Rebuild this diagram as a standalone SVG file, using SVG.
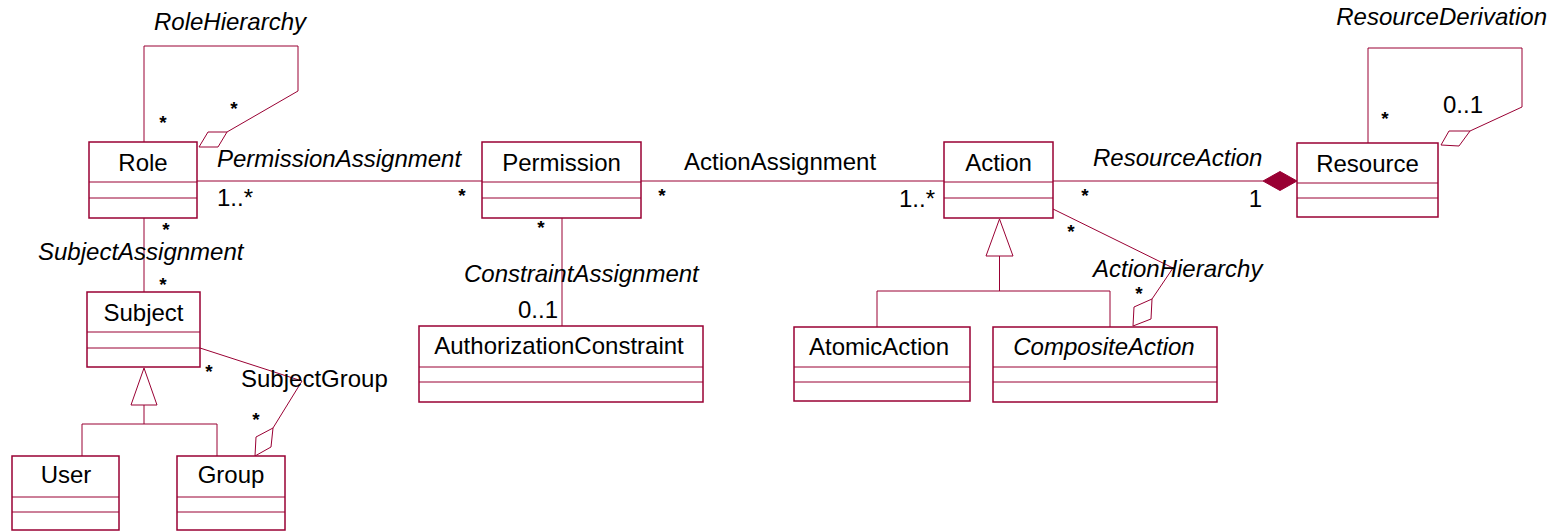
<svg xmlns="http://www.w3.org/2000/svg" width="1555" height="532" viewBox="0 0 1555 532">
<style>
  .box { fill: #ffffff; stroke: #990033; stroke-width: 1.5; }
  .div { stroke: #990033; stroke-width: 1; fill: none; }
  .ln { stroke: #990033; stroke-width: 1; fill: none; }
  .agg { fill: #ffffff; stroke: #990033; stroke-width: 1; }
  .comp { fill: #990033; stroke: #990033; stroke-width: 1; }
  .gen { fill: #ffffff; stroke: #990033; stroke-width: 1; }
  text { font-family: "Liberation Sans", Arial, sans-serif; font-size: 24px; fill: #000000; }
  .name { text-anchor: middle; }
  .it { font-style: italic; }
  .star { font-size: 19px; font-weight: bold; }
</style>
<rect width="1555" height="532" fill="#ffffff"/>

<g id="connectors">
  <!-- RoleHierarchy -->
  <polyline class="ln" points="144,142 144,46 298,46 298,91 227,132"/>
  <polygon class="agg" points="227,132 208,132 199,147 218,147"/>
  <!-- PermissionAssignment -->
  <line class="ln" x1="197" y1="181" x2="482" y2="181"/>
  <!-- ActionAssignment -->
  <line class="ln" x1="641" y1="181" x2="944" y2="181"/>
  <!-- ResourceAction -->
  <line class="ln" x1="1053" y1="181" x2="1263" y2="181"/>
  <polygon class="comp" points="1263,181 1280,171.5 1297,181 1280,190.5"/>
  <!-- ResourceDerivation -->
  <polyline class="ln" points="1368,143 1368,48 1522,48 1522,107 1470,131"/>
  <polygon class="agg" points="1470,131 1449,131 1441,145 1459,146"/>
  <!-- SubjectAssignment -->
  <line class="ln" x1="144" y1="218" x2="144" y2="292"/>
  <!-- ConstraintAssignment -->
  <line class="ln" x1="562" y1="218" x2="562" y2="326"/>
  <!-- Subject generalization -->
  <polygon class="gen" points="144,368 131,405 157,405"/>
  <polyline class="ln" points="144,405 144,424"/>
  <polyline class="ln" points="82,456 82,424 217,424 217,456"/>
  <!-- SubjectGroup -->
  <polyline class="ln" points="200,348 302,381 273,428"/>
  <polygon class="agg" points="273,428 271,447 255,456 256,437"/>
  <!-- Action generalization -->
  <polygon class="gen" points="999.5,219 986,256 1013,256"/>
  <polyline class="ln" points="999.5,256 999.5,291"/>
  <polyline class="ln" points="877,327 877,291 1110,291 1110,327"/>
  <!-- ActionHierarchy -->
  <polyline class="ln" points="1053,209 1173,268 1152,299"/>
  <polygon class="agg" points="1152,299 1151,319 1133,326 1134,307"/>
</g>

<g id="labels">
  <text class="it" x="230" y="30" text-anchor="middle">RoleHierarchy</text>
  <text class="star" x="163" y="129" text-anchor="middle">*</text>
  <text class="star" x="234" y="115" text-anchor="middle">*</text>
  <text class="it" x="217" y="167">PermissionAssignment</text>
  <text x="217" y="206">1..*</text>
  <text class="star" x="462" y="202" text-anchor="middle">*</text>
  <text x="684" y="170">ActionAssignment</text>
  <text class="star" x="662" y="202" text-anchor="middle">*</text>
  <text x="935" y="207" text-anchor="end">1..*</text>
  <text class="it" x="1093" y="166">ResourceAction</text>
  <text class="star" x="1085" y="202" text-anchor="middle">*</text>
  <text x="1262" y="207" text-anchor="end">1</text>
  <text class="it" x="1547" y="25" text-anchor="end">ResourceDerivation</text>
  <text class="star" x="1385" y="125" text-anchor="middle">*</text>
  <text x="1443" y="113">0..1</text>
  <text class="star" x="166" y="236" text-anchor="middle">*</text>
  <text class="it" x="38" y="260">SubjectAssignment</text>
  <text class="star" x="163" y="291" text-anchor="middle">*</text>
  <text class="star" x="541" y="234" text-anchor="middle">*</text>
  <text class="it" x="464" y="282">ConstraintAssignment</text>
  <text x="518" y="318">0..1</text>
  <text class="star" x="209" y="378" text-anchor="middle">*</text>
  <text x="241" y="387">SubjectGroup</text>
  <text class="star" x="256" y="426" text-anchor="middle">*</text>
  <text class="star" x="1071" y="238" text-anchor="middle">*</text>
  <text class="it" x="1093" y="277">ActionHierarchy</text>
  <text class="star" x="1139" y="300" text-anchor="middle">*</text>
</g>

<g id="Role">
  <rect class="box" x="89" y="142" width="108" height="76"/>
  <line class="div" x1="89" y1="182" x2="197" y2="182"/>
  <line class="div" x1="89" y1="198" x2="197" y2="198"/>
  <text class="name" x="143" y="171">Role</text>
</g>
<g id="Permission">
  <rect class="box" x="482" y="142" width="159" height="76"/>
  <line class="div" x1="482" y1="182" x2="641" y2="182"/>
  <line class="div" x1="482" y1="198" x2="641" y2="198"/>
  <text class="name" x="561.5" y="171">Permission</text>
</g>
<g id="Action">
  <rect class="box" x="944" y="142" width="109" height="76"/>
  <line class="div" x1="944" y1="182" x2="1053" y2="182"/>
  <line class="div" x1="944" y1="198" x2="1053" y2="198"/>
  <text class="name" x="998.5" y="171">Action</text>
</g>
<g id="Resource">
  <rect class="box" x="1297" y="143" width="141" height="74"/>
  <line class="div" x1="1297" y1="183" x2="1438" y2="183"/>
  <line class="div" x1="1297" y1="198" x2="1438" y2="198"/>
  <text class="name" x="1367.5" y="172">Resource</text>
</g>
<g id="Subject">
  <rect class="box" x="87" y="292" width="113" height="75"/>
  <line class="div" x1="87" y1="332" x2="200" y2="332"/>
  <line class="div" x1="87" y1="348" x2="200" y2="348"/>
  <text class="name" x="143.5" y="321">Subject</text>
</g>
<g id="AuthorizationConstraint">
  <rect class="box" x="419" y="326" width="284" height="76"/>
  <line class="div" x1="419" y1="367" x2="703" y2="367"/>
  <line class="div" x1="419" y1="382" x2="703" y2="382"/>
  <text class="name" x="559" y="354">AuthorizationConstraint</text>
</g>
<g id="AtomicAction">
  <rect class="box" x="794" y="327" width="176" height="74"/>
  <line class="div" x1="794" y1="367" x2="970" y2="367"/>
  <line class="div" x1="794" y1="382" x2="970" y2="382"/>
  <text class="name" x="879" y="355">AtomicAction</text>
</g>
<g id="CompositeAction">
  <rect class="box" x="993" y="327" width="224" height="75"/>
  <line class="div" x1="993" y1="367" x2="1217" y2="367"/>
  <line class="div" x1="993" y1="382" x2="1217" y2="382"/>
  <text class="name it" x="1104" y="355">CompositeAction</text>
</g>
<g id="User">
  <rect class="box" x="12" y="456" width="107" height="74"/>
  <line class="div" x1="12" y1="497" x2="119" y2="497"/>
  <line class="div" x1="12" y1="512" x2="119" y2="512"/>
  <text class="name" x="66" y="483">User</text>
</g>
<g id="Group">
  <rect class="box" x="177" y="456" width="108" height="74"/>
  <line class="div" x1="177" y1="497" x2="285" y2="497"/>
  <line class="div" x1="177" y1="512" x2="285" y2="512"/>
  <text class="name" x="231" y="483">Group</text>
</g>
</svg>
